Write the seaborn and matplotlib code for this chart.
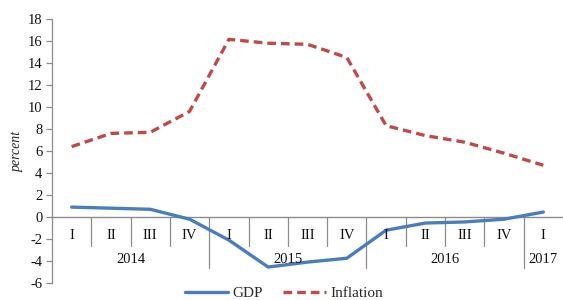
import matplotlib
matplotlib.use("Agg")
import matplotlib.pyplot as plt
import seaborn as sns
import pandas as pd
import numpy as np

quarters = ["I", "II", "III", "IV", "I", "II", "III", "IV", "I", "II", "III", "IV", "I"]
years = ["2014", "2015", "2016", "2017"]
year_counts = [4, 4, 4, 1]
gdp = [0.9, 0.8, 0.7, -0.2, -2.1, -4.55, -4.1, -3.75, -1.2, -0.55, -0.45, -0.2, 0.45]
inflation = [6.4, 7.6, 7.7, 9.6, 16.15, 15.8, 15.7, 14.5, 8.3, 7.4, 6.8, 5.8, 4.7]

sns.set_style("white")
plt.rcParams["font.family"] = ["Liberation Serif", "DejaVu Serif"]

df = pd.DataFrame({"idx": np.arange(len(quarters)), "GDP": gdp, "Inflation": inflation})

fig = plt.figure(figsize=(5.63, 3.0), dpi=100)
ax = fig.add_axes([52 / 563, 1 - 283 / 300, 1 - 52 / 563, (283 - 19) / 300])

blue = "#4A7EBB"
red = "#BE4B48"
sns.lineplot(data=df, x="idx", y="GDP", ax=ax, color=blue, lw=2.4, label="GDP")
sns.lineplot(data=df, x="idx", y="Inflation", ax=ax, color=red, lw=2.4,
             dashes=False, label="Inflation")
ax.lines[1].set_dashes((2.6, 1.5))

n = len(quarters)
ax.set_xlim(-0.5, n - 0.5)
ax.set_ylim(-6, 18)
ax.set_yticks(np.arange(-6, 19, 2))
ax.set_yticklabels([str(v) for v in range(-6, 19, 2)], fontsize=10.5)
ax.set_xticks([])
ax.set_xlabel("")
ax.set_ylabel("percent", fontstyle="italic", fontsize=10, labelpad=2.5)

for s in ["top", "right", "bottom"]:
    ax.spines[s].set_visible(False)
ax.spines["left"].set_color("#8c8c8c")
ax.spines["left"].set_linewidth(0.9)
ax.tick_params(axis="y", which="both", left=True, direction="out", length=4,
               width=0.9, color="#8c8c8c", pad=3, labelcolor="#111111")

gray = "#8c8c8c"
ax.axhline(0, color=gray, lw=1.0, zorder=1)

# quarter dividers and labels
year_bounds = set(np.cumsum(year_counts)[:-1] - 0.5)
for i in range(1, n):
    b = i - 0.5
    if b in year_bounds:
        ax.plot([b, b], [0, -4.65], color=gray, lw=0.9, zorder=1)
    else:
        ax.plot([b, b], [0, -2.6], color=gray, lw=0.9, zorder=1)
for i, q in enumerate(quarters):
    ax.text(i, -1.65, q, ha="center", va="center", fontsize=10.5, color="#111111")

start = 0
for y, c in zip(years, year_counts):
    ax.text(start + (c - 1) / 2, -3.85, y, ha="center", va="center", fontsize=10.5,
            color="#111111")
    start += c

ax.get_legend().remove()
handles, labels = ax.get_legend_handles_labels()
fig.legend(handles, labels, loc="center", bbox_to_anchor=(0.505, 0.023), ncol=2,
           frameon=False, fontsize=11, handlelength=2.8, columnspacing=1.3,
           handletextpad=0.3)

fig.savefig("out.png", dpi=100)
